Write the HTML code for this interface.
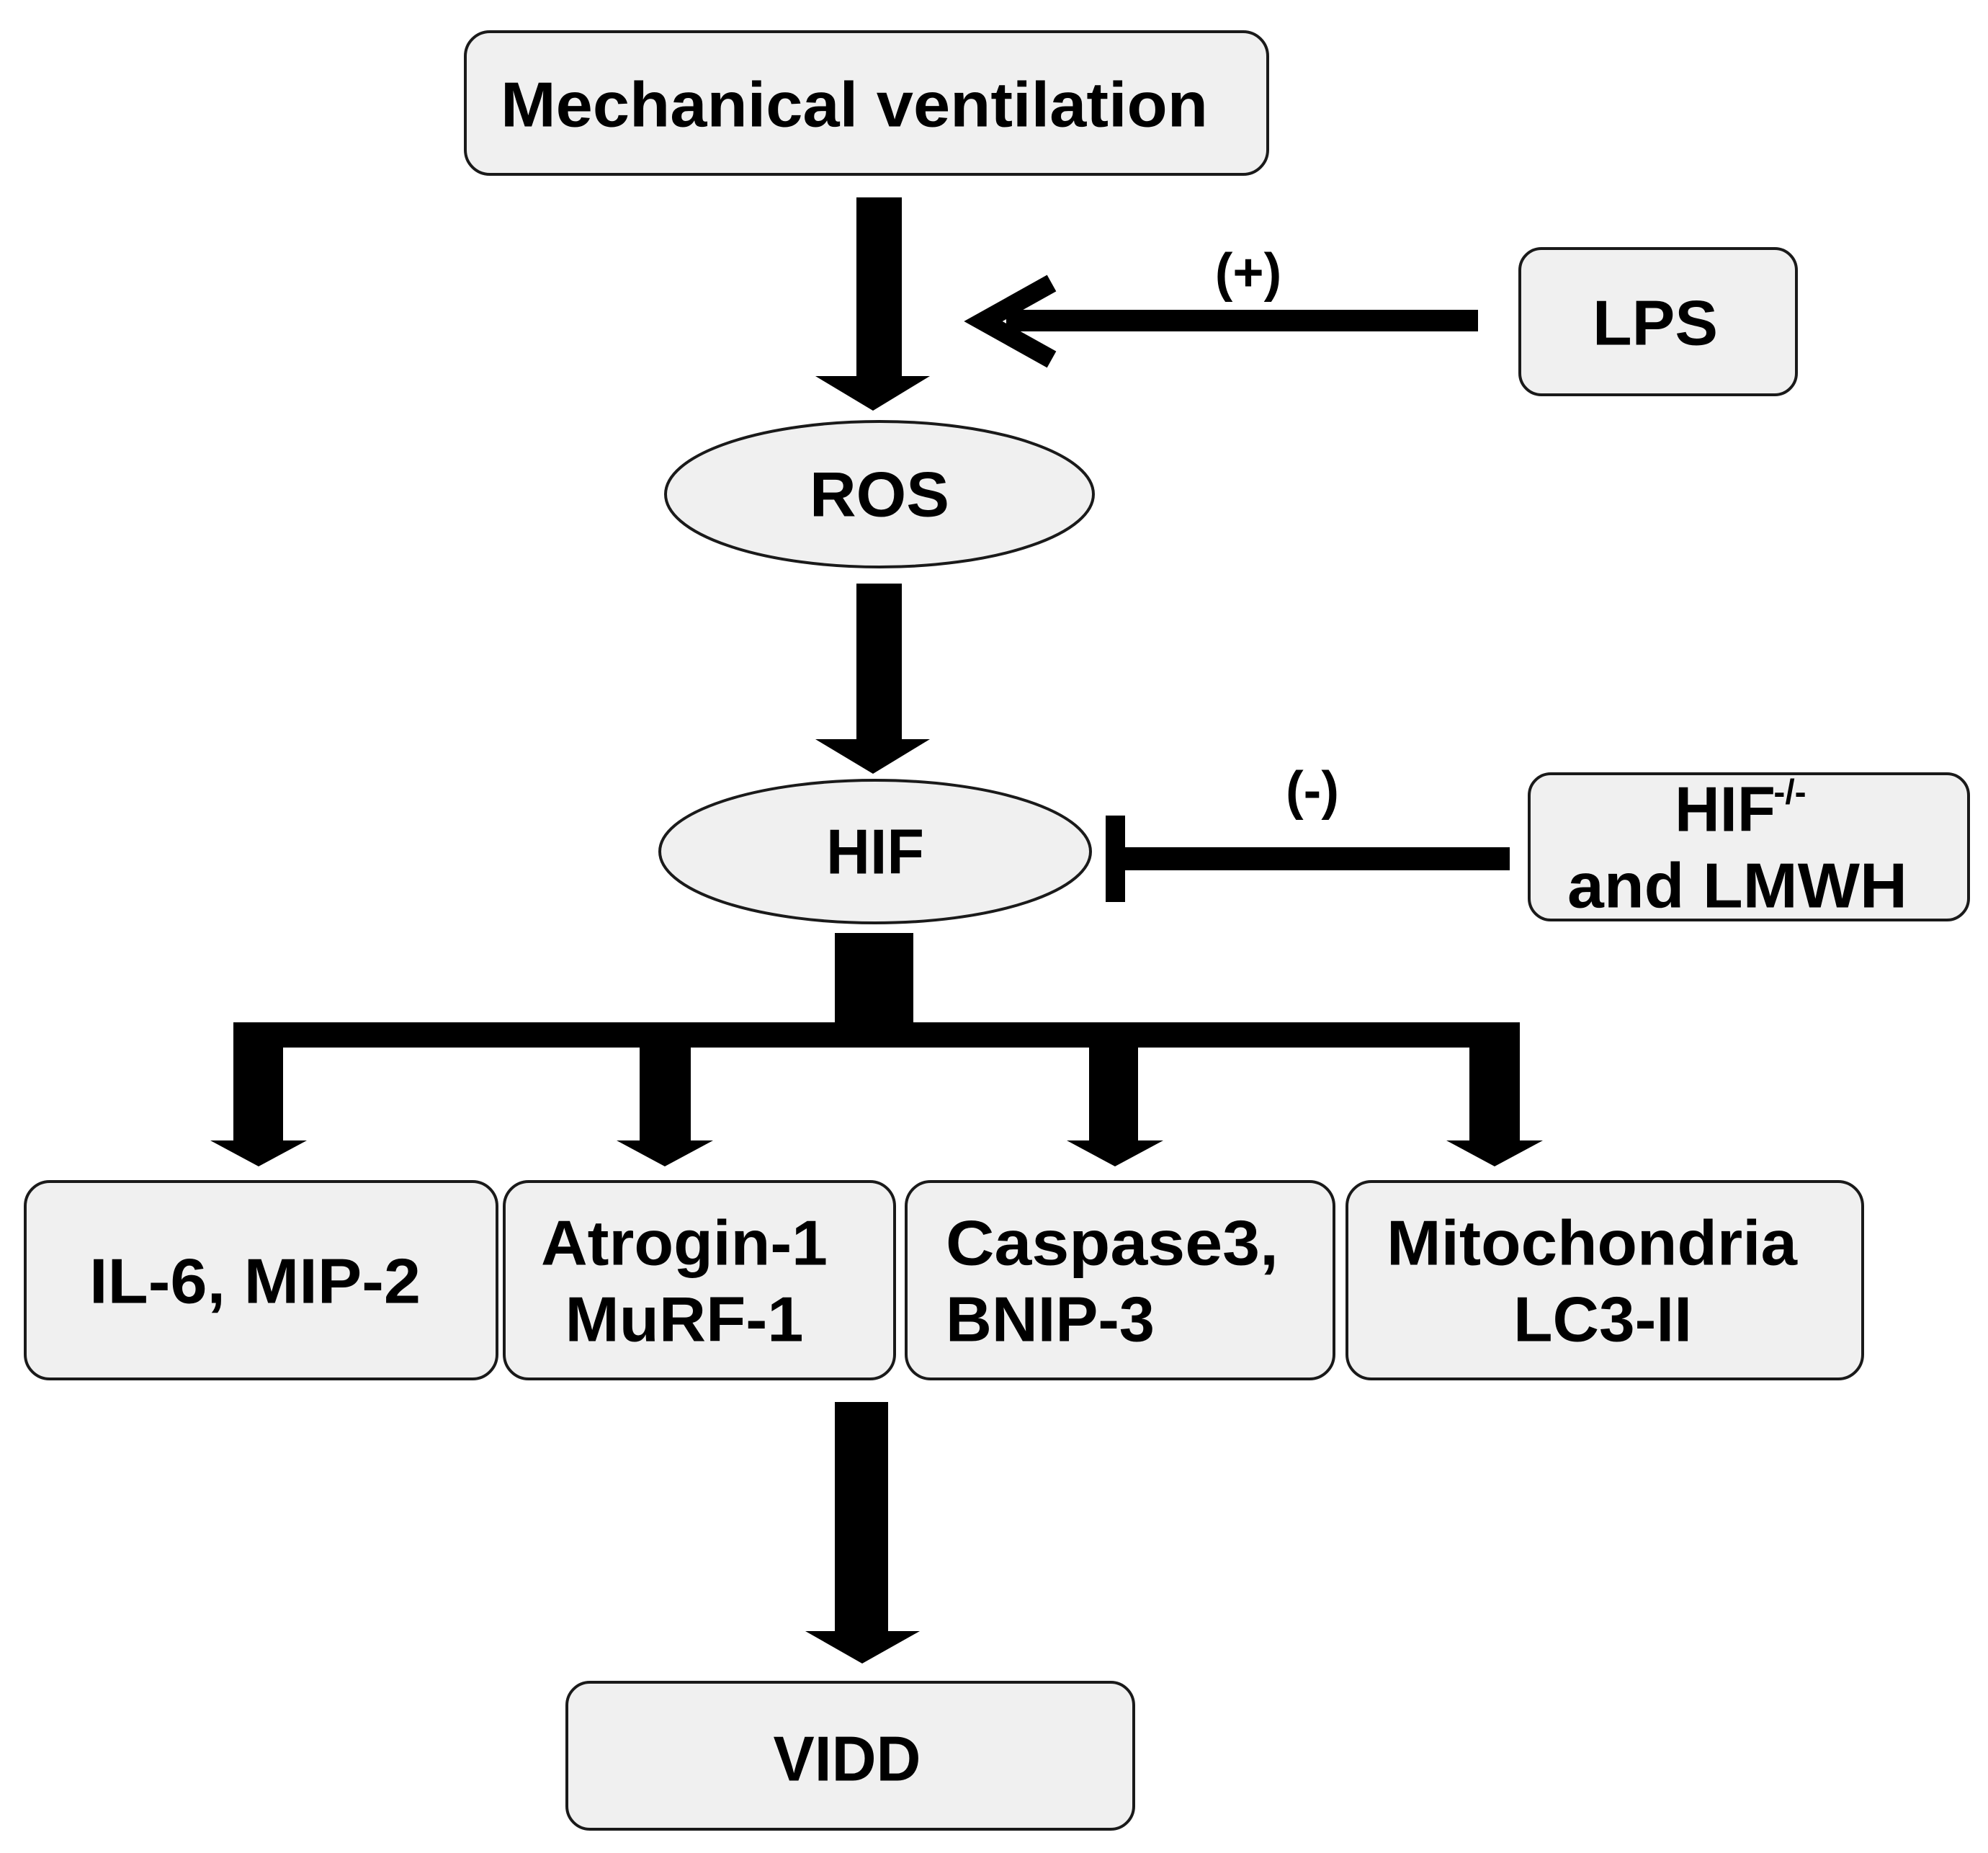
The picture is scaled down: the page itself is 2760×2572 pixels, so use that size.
<!DOCTYPE html>
<html><head><meta charset="utf-8"><style>html,body{margin:0;padding:0;background:#fff}svg{display:block}</style></head>
<body>
<svg width="2760" height="2572" viewBox="0 0 2760 2572" xmlns="http://www.w3.org/2000/svg">
<g fill="#f0f0f0" stroke="#1a1a1a" stroke-width="4">
<rect x="646" y="44" width="1114" height="198" rx="34"/>
<rect x="2110" y="345" width="384" height="203" rx="30"/>
<ellipse cx="1221" cy="686" rx="297" ry="101"/>
<ellipse cx="1215" cy="1182" rx="299" ry="99"/>
<rect x="2123" y="1074" width="610" height="203" rx="30"/>
<rect x="35" y="1640" width="655" height="274" rx="34"/>
<rect x="700" y="1640" width="542" height="274" rx="34"/>
<rect x="1258" y="1640" width="594" height="274" rx="34"/>
<rect x="1870" y="1640" width="716" height="274" rx="34"/>
<rect x="787" y="2335" width="787" height="204" rx="32"/>
</g>
<g fill="#000">
<rect x="1189" y="274" width="63" height="250"/>
<polygon points="1132,522 1291,522 1212,570"/>
<rect x="1189" y="810" width="63" height="218"/>
<polygon points="1132,1026 1291,1026 1212,1074"/>
<rect x="1397" y="430" width="655" height="30"/>
<polyline points="1460,393 1365,446 1460,499" fill="none" stroke="#000" stroke-width="26"/>
<rect x="1535" y="1132" width="27" height="120"/>
<rect x="1562" y="1176" width="534" height="32"/>
<rect x="1159" y="1295" width="109" height="147"/>
<rect x="324" y="1419" width="1786" height="35"/>
<rect x="324" y="1419" width="69" height="166"/>
<rect x="888" y="1440" width="71" height="145"/>
<rect x="1512" y="1440" width="68" height="145"/>
<rect x="2040" y="1419" width="70" height="166"/>
<polygon points="292,1583 426,1583 359,1619"/>
<polygon points="856,1583 990,1583 923,1619"/>
<polygon points="1481,1583 1615,1583 1548,1619"/>
<polygon points="2008,1583 2142,1583 2075,1619"/>
<rect x="1159" y="1946" width="74" height="320"/>
<polygon points="1118,2264 1277,2264 1197,2309"/>
</g>
<g font-family="Liberation Sans, Arial, sans-serif" font-weight="bold" font-size="88" fill="#000" dominant-baseline="central" text-anchor="middle">
<text x="1186" y="145" textLength="982" lengthAdjust="spacingAndGlyphs">Mechanical  ventilation</text>
<text x="2298" y="448" textLength="174" lengthAdjust="spacingAndGlyphs">LPS</text>
<text x="1733" y="378" font-size="74">(+)</text>
<text x="1221" y="686" textLength="194" lengthAdjust="spacingAndGlyphs">ROS</text>
<text x="1215" y="1182" textLength="136" lengthAdjust="spacingAndGlyphs">HIF</text>
<text x="1822" y="1097" font-size="74">(-)</text>
<text x="2395" y="1123" textLength="140" lengthAdjust="spacingAndGlyphs">HIF</text>
<text x="2485" y="1100" font-size="48">-/-</text>
<text x="2412" y="1229" textLength="472" lengthAdjust="spacingAndGlyphs">and LMWH</text>
<text x="354" y="1778" textLength="460" lengthAdjust="spacingAndGlyphs">IL-6, MIP-2</text>
<text x="950" y="1725" textLength="398" lengthAdjust="spacingAndGlyphs">Atrogin-1</text>
<text x="950" y="1831" textLength="331" lengthAdjust="spacingAndGlyphs">MuRF-1</text>
<text x="1313" y="1725" text-anchor="start" textLength="462" lengthAdjust="spacingAndGlyphs">Caspase3,</text>
<text x="1313" y="1831" text-anchor="start" textLength="290" lengthAdjust="spacingAndGlyphs">BNIP-3</text>
<text x="2210" y="1725" textLength="570" lengthAdjust="spacingAndGlyphs">Mitochondria</text>
<text x="2225" y="1831" textLength="248" lengthAdjust="spacingAndGlyphs">LC3-II</text>
<text x="1176" y="2441" textLength="205" lengthAdjust="spacingAndGlyphs">VIDD</text>
</g>
</svg>
</body></html>
